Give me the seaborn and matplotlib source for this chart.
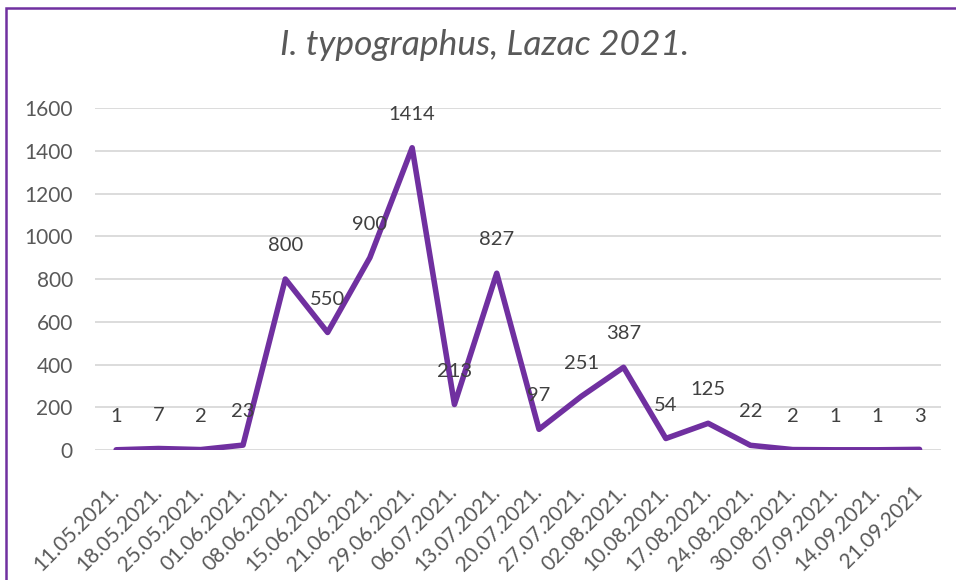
import matplotlib
matplotlib.use("Agg")
import matplotlib.pyplot as plt
import seaborn as sns
import pandas as pd
from matplotlib.patches import Rectangle

# Data
dates = [
    "11.05.2021.", "18.05.2021.", "25.05.2021.", "01.06.2021.", "08.06.2021.",
    "15.06.2021.", "21.06.2021.", "29.06.2021.", "06.07.2021.", "13.07.2021.",
    "20.07.2021.", "27.07.2021.", "02.08.2021.", "10.08.2021.", "17.08.2021.",
    "24.08.2021.", "30.08.2021.", "07.09.2021.", "14.09.2021.", "21.09.2021",
]
counts = [1, 7, 2, 23, 800, 550, 900, 1414, 213, 827, 97, 251, 387, 54, 125, 22, 2, 1, 1, 3]
y_ticks = [0, 200, 400, 600, 800, 1000, 1200, 1400, 1600]
title = "I. typographus, Lazac 2021."

purple = "#7030A0"
text_grey = "#595959"

sns.set_theme(style="white")
plt.rcParams["font.family"] = ["Lato", "DejaVu Sans"]

df = pd.DataFrame({"date": dates, "count": counts})

fig = plt.figure(figsize=(9.56, 5.8), dpi=100)
ax = fig.add_axes([0.0994, 0.2241, 0.8846, 0.5897])

sns.lineplot(data=df, x="date", y="count", sort=False, color=purple,
             linewidth=4, ax=ax)

# data labels above each point
for i, v in enumerate(counts):
    ax.annotate(str(v), (i, v), xytext=(0, 24), textcoords="offset points",
                ha="center", va="center", fontsize=14.5, color="#404040")

ax.set_xlim(-0.5, len(dates) - 0.5)
ax.set_ylim(0, 1600)
ax.set_yticks(y_ticks)
ax.set_xticks(range(len(dates)))
ax.set_xticklabels(dates, rotation=45, ha="right", rotation_mode="anchor",
                   va="center")
ax.tick_params(axis="x", length=0, pad=28, labelsize=15, labelcolor=text_grey)
ax.tick_params(axis="y", length=0, pad=16, labelsize=15, labelcolor=text_grey)
ax.yaxis.grid(True, color="#d9d9d9", linewidth=1.3)
ax.set_axisbelow(True)
for s in ax.spines.values():
    s.set_visible(False)
ax.set_xlabel("")
ax.set_ylabel("")

fig.text(0.507, 1 - 45 / 580, title, ha="center", va="center", fontsize=25.5,
         style="italic", color=text_grey)

# purple frame around the chart area (right and bottom edges off-canvas)
fig.patches.append(Rectangle((6 / 956, -0.05), 1.2, 1 - 8 / 580 + 0.05,
                             transform=fig.transFigure, fill=False,
                             edgecolor=purple, linewidth=1.8))

fig.savefig("out.png", dpi=100)
